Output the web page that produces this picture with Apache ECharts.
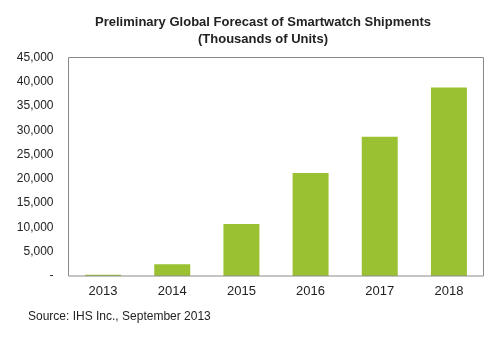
<!DOCTYPE html>
<html><head><meta charset="utf-8">
<script src="https://cdn.jsdelivr.net/npm/echarts@6/dist/echarts.min.js"></script>
<style>html,body{margin:0;padding:0;background:#fff}#c{width:500px;height:339px}</style>
</head><body><div id="c"></div>
<script>
const categories = ['2013','2014','2015','2016','2017','2018'];
const shipments = [250, 2400, 10700, 21200, 28700, 38800];
const yTicks = [0,5000,10000,15000,20000,25000,30000,35000,40000,45000];
const chart = echarts.init(document.getElementById('c'));
chart.setOption({
  animation:false,
  backgroundColor:'#fff',
  title:{
    text:'Preliminary Global Forecast of Smartwatch Shipments\n(Thousands of Units)',
    left:258, top:9, textAlign:'center',
    textStyle:{fontFamily:'Liberation Sans, Arial', fontSize:13, fontWeight:'bold', color:'#222', lineHeight:17}
  },
  graphic:[{type:'text', left:28, top:311, style:{text:'Source: IHS Inc., September 2013', font:'12px Liberation Sans, Arial', fill:'#222'}},
           {type:'rect', shape:{x:68.5,y:57.5,width:415,height:218.5}, style:{fill:'none', stroke:'#8a8a8a', lineWidth:1}, z:10}],
  grid:{left:68.5, right:16.5, top:57.5, bottom:63},
  xAxis:{type:'category', data:categories,
    axisLine:{show:false}, axisTick:{show:false},
    axisLabel:{fontFamily:'Liberation Sans, Arial', fontSize:13, color:'#222', margin:9}},
  yAxis:{type:'value', min:0, max:45000, interval:5000,
    splitLine:{show:false}, axisLine:{show:false}, axisTick:{show:false},
    axisLabel:{fontFamily:'Liberation Sans, Arial', fontSize:12, color:'#222', margin:15,
      formatter:v=> v===0 ? '-' : v.toLocaleString('en-US')}},
  series:[{type:'bar', data:shipments, barWidth:'52%', itemStyle:{color:'#9ac132'}}]
});
</script></body></html>
